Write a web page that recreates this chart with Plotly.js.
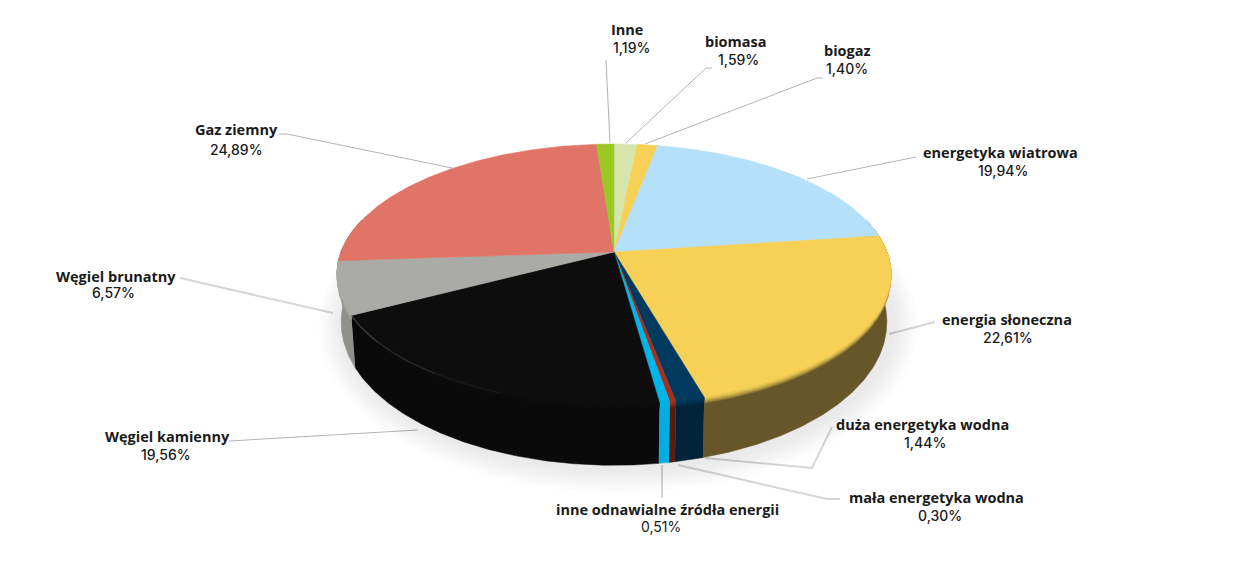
<!DOCTYPE html>
<html lang="pl">
<head>
<meta charset="utf-8">
<title>Struktura energii</title>
<script src="https://cdn.plot.ly/plotly-3.0.1.min.js"></script>
<style>html,body{margin:0;padding:0;background:#fff}#chart{width:1250px;height:565px}</style>
</head>
<body>
<div id="chart"></div>
<script>
// Data, clockwise from the "biomasa" slice start
const categories = ["biomasa","biogaz","energetyka wiatrowa","energia słoneczna","duża energetyka wodna","mała energetyka wodna","inne odnawialne źródła energii","Węgiel kamienny","Węgiel brunatny","Gaz ziemny","Inne"];
const valueLabels = ["1,59%","1,40%","19,94%","22,61%","1,44%","0,30%","0,51%","19,56%","6,57%","24,89%","1,19%"];
const shares = [1.59,1.40,19.94,22.61,1.44,0.30,0.51,19.56,6.57,24.89,1.19];

// Styles
const topColors  = ["#d5e6ac","#f6d155","#b5e0f9","#f6d155","#003a5f","#a5301c","#00b5e8","#0d0d0d","#aaaba6","#e07567","#9bc924"];
const wallColors = ["#8a9a6a","#8a7530","#66562a","#66562a","#02233a","#5a1a10","#00aee2","#0a0a0a","#8f908b","#8f908b","#5e7a18"];
const labelNameX = [736,847,1000,1007,922,936,667,167,116,236,627];
const labelNameY = [41,50,152,319,424,497,509,436,276,129,29];
const labelValX  = [738,847,1003,1008,925,940,661,166,113,236,631];
const labelValY  = [59,68,170,337,442,515,526,454,292,149,47];
const leaderPaths = [
  {d:"M712,68 L706,68 L626,143",c:"#b4b4b4",w:1},
  {d:"M823,78 L817,78 L645,144",c:"#b4b4b4",w:1},
  {d:"M916,157 L807,179",c:"#b4b4b4",w:1},
  {d:"M935,322 L889,334",c:"#d6d6d6",w:2},
  {d:"M832,427 L812,468 L705,458",c:"#d6d6d6",w:2},
  {d:"M840,499 L827,499 L678,465",c:"#d6d6d6",w:2},
  {d:"M662,465 L662,498",c:"#d6d6d6",w:2},
  {d:"M229,441 L418,430",c:"#b4b4b4",w:1},
  {d:"M180,278 L333,313",c:"#d6d6d6",w:2},
  {d:"M279,134 L287,134 L452,168",c:"#b4b4b4",w:1},
  {d:"M606,60 L610,143",c:"#b4b4b4",w:1}
];

// Projection of the tilted disc
const cx = 614, cy = 252, rxBase = 273, ryBase = 126.4, persp = 0.17;
const rad = Math.PI / 180;
function topPt(deg){
  const u = Math.sin(deg*rad), v = -Math.cos(deg*rad), k = 1 - persp*v;
  return [cx + rxBase*u/k, cy + ryBase*v/k, v];
}
function wallPt(deg, f){ // f = 0 top rim .. 1 bottom rim
  const p = topPt(deg), depth = 45 + 16*p[2], s = 1 - 0.015*f;
  return [cx + (p[0]-cx)*s, p[1] + depth*f];
}
function arc(a0,a1,fn){
  const n = Math.max(2, Math.ceil(Math.abs(a1-a0)/0.5)), out = [];
  for(let i=0;i<=n;i++) out.push(fn(a0+(a1-a0)*i/n));
  return out;
}
function hex(c){return [1,3,5].map(i=>parseInt(c.substr(i,2),16));}
function mix(a,b,t){const A=hex(a),B=hex(b);return "rgb("+A.map((x,i)=>Math.round(x+(B[i]-x)*t)).join(",")+")";}

const traces = [];
function poly(pts,color,lw){
  traces.push({type:"scatter",mode:"lines",x:pts.map(p=>p[0]),y:pts.map(p=>p[1]),fill:"toself",fillcolor:color,
    line:{color:color,width:lw===undefined?0.5:lw},hoverinfo:"skip",showlegend:false});
}
// soft shadow
for(let i=0;i<7;i++){
  const grow = 26 - i*3.5;
  const pts = arc(0,360,a=>{const q=wallPt(a,1);return [cx+(q[0]-cx)*(1+grow/270)+4, q[1]+ (q[1]-310)*grow/160 + 2];});
  poly(pts,"rgba(0,0,0,0.012)",0);
}
// walls
let cum = 0;
const starts = shares.map(v=>{const s=cum;cum+=v*3.6;return s;});
shares.forEach((v,i)=>{
  const a0 = Math.max(starts[i],75), a1 = Math.min(starts[i]+v*3.6,285);
  if(a1<=a0) return;
  const band = (f0,f1,color)=>{
    const up = arc(a0,a1,a=>wallPt(a,f0)), lo = arc(a1,a0,a=>wallPt(a,f1));
    poly(up.concat(lo),color);
  };
  band(0,1,wallColors[i]);
  const rim = [[0.10,0.3],[0.075,0.55],[0.05,0.72],[0.03,0.88]];
  rim.forEach(r=>band(0,r[0],mix(wallColors[i],topColors[i],r[1])));
});
// top surfaces
shares.forEach((v,i)=>{
  const rim = arc(starts[i],starts[i]+v*3.6,a=>topPt(a));
  poly([[cx,cy]].concat(rim).concat([[cx,cy]]),topColors[i]);
});
// faint highlight on the black slice's rim
const blackIdx = categories.indexOf("Węgiel kamienny");
const bEnd = starts[blackIdx]+shares[blackIdx]*3.6;
[[0,12,0.34],[12,28,0.2],[28,42,0.09]].forEach(s=>{
  const pts = arc(bEnd-s[0],bEnd-s[1],a=>topPt(a));
  traces.push({type:"scatter",mode:"lines",x:pts.map(p=>p[0]),y:pts.map(p=>p[1]),
    line:{color:"rgba(150,150,150,"+s[2]+")",width:1.5},hoverinfo:"skip",showlegend:false});
});

const annotations = [];
categories.forEach((c,i)=>{
  annotations.push({x:labelNameX[i],y:labelNameY[i],xref:"x",yref:"y",text:c,showarrow:false,xanchor:"center",yanchor:"middle",
    font:{family:"'Open Sans',sans-serif",size:14.5,color:"#1a1a1a",weight:700}});
  const light = c.startsWith("inne odn");
  annotations.push({x:labelValX[i],y:labelValY[i],xref:"x",yref:"y",text:valueLabels[i],showarrow:false,xanchor:"center",yanchor:"middle",
    font:{family:"Inter,sans-serif",size:14,color:"#1a1a1a",weight:light?400:500}});
});
const shapes = leaderPaths.map(l=>({type:"path",path:l.d,xref:"x",yref:"y",line:{color:l.c,width:l.w},layer:"below"}));

Plotly.newPlot("chart",traces,{
  width:1250,height:565,margin:{l:0,r:0,t:0,b:0},paper_bgcolor:"#fff",plot_bgcolor:"#fff",showlegend:false,
  xaxis:{range:[0,1250],visible:false,fixedrange:true},
  yaxis:{range:[565,0],visible:false,fixedrange:true},
  annotations:annotations,shapes:shapes
},{staticPlot:true,displayModeBar:false});
</script>
</body>
</html>
